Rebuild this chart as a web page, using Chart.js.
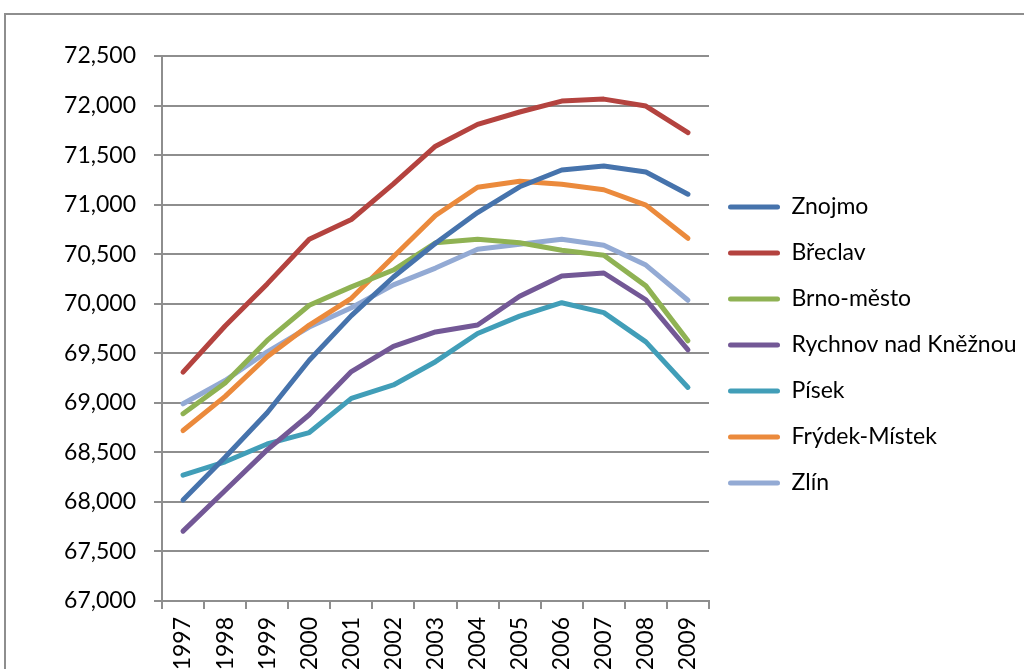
<!DOCTYPE html>
<html>
<head>
<meta charset="utf-8">
<script src="https://cdn.jsdelivr.net/npm/chart.js@4.4.0/dist/chart.umd.min.js"></script>
<style>
  html, body { margin: 0; padding: 0; background: #fff; overflow: hidden; }
  #frame { position: absolute; left: 4px; top: 13px; width: 1200px; height: 900px; border: 2px solid #8e8e8e; }
  #wrap { position: absolute; left: 0; top: 0; }
</style>
</head>
<body>
<div id="frame"></div>
<div id="wrap"><canvas id="chart" width="1100" height="720"></canvas></div>
<script>
// data
const years = ["1997", "1998", "1999", "2000", "2001", "2002", "2003", "2004", "2005", "2006", "2007", "2008", "2009"];
const znojmo   = [68020, 68450, 68900, 69430, 69880, 70270, 70610, 70920, 71180, 71350, 71390, 71330, 71105];
const breclav  = [69310, 69775, 70200, 70650, 70850, 71210, 71590, 71810, 71935, 72045, 72065, 71995, 71726];
const brno     = [68890, 69200, 69630, 69985, 70170, 70340, 70615, 70650, 70615, 70540, 70490, 70180, 69625];
const rychnov  = [67705, 68115, 68525, 68880, 69315, 69570, 69715, 69785, 70075, 70280, 70310, 70040, 69535];
const pisek    = [68270, 68405, 68585, 68700, 69045, 69180, 69415, 69700, 69875, 70010, 69910, 69615, 69155];
const frydek   = [68720, 69065, 69465, 69785, 70055, 70475, 70890, 71175, 71235, 71205, 71150, 70995, 70660];
const zlin     = [68990, 69225, 69515, 69765, 69960, 70190, 70360, 70550, 70600, 70650, 70590, 70390, 70035];
const seriesNames = ["Znojmo", "Břeclav", "Brno-město", "Rychnov nad Kněžnou", "Písek", "Frýdek-Místek", "Zlín"];
const yMin = 67000, yMax = 72500, yStep = 500;

const colors = ["#4673ac", "#b4433f", "#8fb253", "#735896", "#419eb8", "#eb8a3c", "#93aad4"];
const values = [znojmo, breclav, brno, rychnov, pisek, frydek, zlin];
const gridGray = "#8e8e8e";
const font = { family: "Lato", size: 23 };

const datasets = values.map((v, i) => ({
  label: seriesNames[i],
  data: v,
  borderColor: colors[i],
  backgroundColor: colors[i],
  borderWidth: 5,
  borderCapStyle: "round",
  borderJoinStyle: "round",
  pointRadius: 0,
  fill: false,
  tension: 0
}));

// legend starts a little left of the plot's right edge, like in Excel
const legendNudge = {
  id: "legendNudge",
  beforeDraw(c) { c.legend.left = c.chartArea.right - 4; }
};

const chart = new Chart(document.getElementById("chart"), {
  type: "line",
  data: { labels: years, datasets },
  plugins: [legendNudge],
  options: {
    responsive: false,
    animation: false,
    devicePixelRatio: 1,
    layout: { padding: { top: 56, left: 0, right: 0, bottom: 0 } },
    plugins: {
      tooltip: { enabled: false },
      legend: {
        position: "right",
        align: "start",
        fullSize: false,
        maxWidth: 500,
        title: { display: true, text: " ", font: { size: 10 }, padding: { top: 50, bottom: 54.5 } },
        labels: {
          color: "#000",
          font,
          boxWidth: 52,
          boxHeight: 5,
          padding: 23,
          generateLabels: (c) => Chart.defaults.plugins.legend.labels.generateLabels(c)
            .map(l => ({ ...l, lineWidth: 0, fillStyle: l.strokeStyle, borderRadius: 2.5 }))
        }
      }
    },
    scales: {
      x: {
        offset: true,
        afterFit: (s) => { s.height = 720 - 601; },
        grid: { display: true, drawOnChartArea: false, offset: true, color: gridGray, lineWidth: 2, tickLength: 8 },
        border: { display: true, color: gridGray, width: 2 },
        ticks: { color: "#000", font, minRotation: 90, maxRotation: 90, autoSkip: false, padding: 8 }
      },
      y: {
        min: yMin,
        max: yMax,
        afterFit: (s) => { s.width = 162; },
        grid: { color: gridGray, lineWidth: 2, tickLength: 8 },
        border: { display: true, color: gridGray, width: 2 },
        ticks: {
          stepSize: yStep,
          color: "#000",
          font,
          padding: 18,
          callback: (v) => v.toLocaleString("en-US")
        }
      }
    }
  }
});

// pull the plot's right edge in so it ends where it does in the picture
chart.options.layout.padding.right += chart.chartArea.right - 709;
chart.update("none");
</script>
</body>
</html>
